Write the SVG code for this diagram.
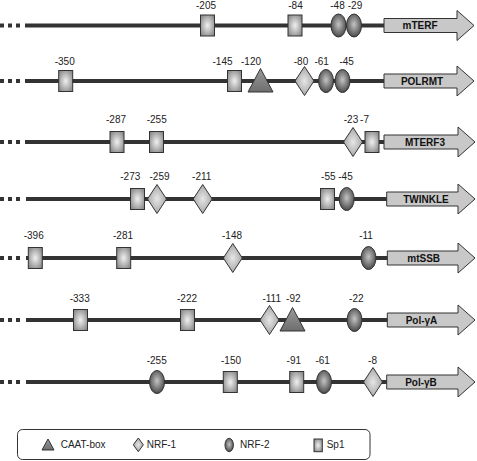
<svg xmlns="http://www.w3.org/2000/svg" xmlns:xlink="http://www.w3.org/1999/xlink" width="477" height="461" viewBox="0 0 477 461">
<style>
.bb{stroke:#333;stroke-width:4;fill:none}
.dash{stroke:#333;stroke-width:4;fill:none;stroke-dasharray:4 4}
.arrow{fill:#c8c8c8;stroke:#333;stroke-width:1}
.an{font-family:"Liberation Sans",Arial,sans-serif;font-size:10px;font-weight:bold;fill:#111;text-anchor:middle}
.lb{font-family:"Liberation Sans",Arial,sans-serif;font-size:10px;fill:#222;text-anchor:middle}
.lg{font-family:"Liberation Sans",Arial,sans-serif;font-size:10px;fill:#222}
.sh{stroke:#333;stroke-width:1}
</style>
<defs>
<radialGradient id="gSq" cx="0.5" cy="0.5" r="0.6">
<stop offset="0" stop-color="#f0f0f0"/><stop offset="1" stop-color="#8a8a8a"/>
</radialGradient>
<radialGradient id="gEl" cx="0.5" cy="0.45" r="0.55">
<stop offset="0" stop-color="#c4c4c4"/><stop offset="1" stop-color="#4a4a4a"/>
</radialGradient>
<radialGradient id="gDi" cx="0.5" cy="0.5" r="0.5">
<stop offset="0" stop-color="#e6e6e6"/><stop offset="1" stop-color="#a8a8a8"/>
</radialGradient>
<linearGradient id="gTr" x1="0" y1="0" x2="0" y2="1">
<stop offset="0" stop-color="#9a9a9a"/><stop offset="1" stop-color="#6e6e6e"/>
</linearGradient>
<rect id="sq" class="sh" x="-7" y="-10.5" width="14" height="21" fill="url(#gSq)"/>
<ellipse id="el" class="sh" rx="7.5" ry="11.5" fill="url(#gEl)"/>
<polygon id="di" class="sh" points="0,-14.5 9.5,0 0,14.5 -9.5,0" fill="url(#gDi)"/>
<polygon id="tr" class="sh" points="0,-12.5 12.5,11 -12.5,11" fill="url(#gTr)"/>
</defs>

<g id="connectors">
<line class="dash" x1="0" y1="25.5" x2="20" y2="25.5"/><line class="bb" x1="25" y1="25.5" x2="385" y2="25.5"/>
<line class="dash" x1="0" y1="81" x2="20" y2="81"/><line class="bb" x1="25" y1="81" x2="385" y2="81"/>
<line class="dash" x1="0" y1="142" x2="20" y2="142"/><line class="bb" x1="25" y1="142" x2="385" y2="142"/>
<line class="dash" x1="0" y1="199" x2="20" y2="199"/><line class="bb" x1="26" y1="199" x2="387" y2="199"/>
<line class="dash" x1="0" y1="258" x2="20" y2="258"/><line class="bb" x1="26" y1="258" x2="388" y2="258"/>
<line class="dash" x1="0" y1="320" x2="20" y2="320"/><line class="bb" x1="26" y1="320" x2="388" y2="320"/>
<line class="dash" x1="0" y1="382" x2="20" y2="382"/><line class="bb" x1="26" y1="382" x2="387" y2="382"/>
</g>

<g id="mTERF">
<use href="#sq" x="207.5" y="25.5"/><use href="#sq" x="295" y="25.5"/>
<use href="#el" x="338.5" y="25.5"/><use href="#el" x="354" y="25.5"/>
<text class="lb" x="206" y="9">-205</text><text class="lb" x="295.5" y="9">-84</text>
<text class="lb" x="337.5" y="9">-48</text><text class="lb" x="355" y="9">-29</text>
<path class="arrow" d="M384,18.5 H457 V10.5 L474,25.5 L457,40.5 V32.5 H384 Z"/>
<text class="an" x="420" y="29">mTERF</text>
</g>

<g id="POLRMT">
<use href="#sq" x="65.7" y="81"/><use href="#sq" x="234.5" y="81"/>
<use href="#tr" x="260.5" y="81"/><use href="#di" x="304.5" y="81"/>
<use href="#el" x="326" y="81"/><use href="#el" x="342.5" y="81"/>
<text class="lb" x="64.7" y="65">-350</text><text class="lb" x="222.5" y="65">-145</text>
<text class="lb" x="251" y="65">-120</text><text class="lb" x="301" y="65">-80</text>
<text class="lb" x="321.7" y="65">-61</text><text class="lb" x="346.7" y="65">-45</text>
<path class="arrow" d="M384,74 H457 V66 L474,81 L457,96 V88 H384 Z"/>
<text class="an" x="422" y="84.5">POLRMT</text>
</g>

<g id="MTERF3">
<use href="#sq" x="117" y="142"/><use href="#sq" x="156.5" y="142"/>
<use href="#di" x="353" y="142"/><use href="#sq" x="372" y="142"/>
<text class="lb" x="116" y="123">-287</text><text class="lb" x="156.7" y="123">-255</text>
<text class="lb" x="351" y="123">-23</text><text class="lb" x="364.5" y="123">-7</text>
<path class="arrow" d="M384,135 H458 V127 L475,142 L458,157 V149 H384 Z"/>
<text class="an" x="425" y="145.5">MTERF3</text>
</g>

<g id="TWINKLE">
<use href="#sq" x="137.5" y="199"/><use href="#di" x="157" y="199"/>
<use href="#di" x="202.7" y="199"/><use href="#sq" x="327.5" y="199"/>
<use href="#el" x="346.7" y="199"/>
<text class="lb" x="130.3" y="180">-273</text><text class="lb" x="159.5" y="180">-259</text>
<text class="lb" x="201.7" y="180">-211</text><text class="lb" x="328.3" y="180">-55</text>
<text class="lb" x="345.5" y="180">-45</text>
<path class="arrow" d="M386.7,192 H458 V184 L475,199 L458,214 V206 H386.7 Z"/>
<text class="an" x="426" y="202.5">TWINKLE</text>
</g>

<g id="mtSSB">
<use href="#sq" x="35.3" y="258"/><use href="#sq" x="123.7" y="258"/>
<use href="#di" x="232.8" y="258"/><use href="#el" x="368.5" y="258"/>
<text class="lb" x="33.7" y="238.5">-396</text><text class="lb" x="123" y="238.5">-281</text>
<text class="lb" x="232" y="238.5">-148</text><text class="lb" x="366" y="238.5">-11</text>
<path class="arrow" d="M387.3,251 H458 V243 L475,258 L458,273 V265 H387.3 Z"/>
<text class="an" x="423.7" y="261.5">mtSSB</text>
</g>

<g id="Pol-gA">
<use href="#sq" x="80.5" y="320"/><use href="#sq" x="187.5" y="320"/>
<use href="#di" x="269.5" y="320"/><use href="#tr" x="292.5" y="320"/>
<use href="#el" x="354.5" y="320"/>
<text class="lb" x="79.7" y="301.5">-333</text><text class="lb" x="187" y="301.5">-222</text>
<text class="lb" x="271.7" y="301.5">-111</text><text class="lb" x="293.3" y="301.5">-92</text>
<text class="lb" x="356.3" y="301.5">-22</text>
<path class="arrow" d="M387.3,313 H458 V305 L475,320 L458,335 V327 H387.3 Z"/>
<text class="an" x="421.5" y="323.5">Pol-γA</text>
</g>

<g id="Pol-gB">
<use href="#el" x="157" y="382"/><use href="#sq" x="230.3" y="382"/>
<use href="#sq" x="296.7" y="382"/><use href="#el" x="324" y="382"/>
<use href="#di" x="373" y="382"/>
<text class="lb" x="156.7" y="363.5">-255</text><text class="lb" x="231" y="363.5">-150</text>
<text class="lb" x="293.8" y="363.5">-91</text><text class="lb" x="322.7" y="363.5">-61</text>
<text class="lb" x="372.5" y="363.5">-8</text>
<path class="arrow" d="M386.7,375 H458 V367 L475,382 L458,397 V389 H386.7 Z"/>
<text class="an" x="421" y="385.5">Pol-γB</text>
</g>

<g id="legend">
<rect x="17.5" y="429.5" width="352.5" height="30" rx="5" fill="#fff" stroke="#333" stroke-width="1"/>
<polygon class="sh" points="48,439 54,450 42,450" fill="url(#gTr)"/>
<text class="lg" x="60.7" y="448">CAAT-box</text>
<polygon class="sh" points="138.3,438 143.3,444.8 138.3,451.7 133.3,444.8" fill="url(#gDi)"/>
<text class="lg" x="146.7" y="448">NRF-1</text>
<ellipse class="sh" cx="229.2" cy="445" rx="4.2" ry="6.7" fill="url(#gEl)"/>
<text class="lg" x="240" y="448">NRF-2</text>
<rect class="sh" x="314" y="439" width="8.3" height="12.7" fill="url(#gSq)"/>
<text class="lg" x="326.7" y="448">Sp1</text>
</g>
</svg>
